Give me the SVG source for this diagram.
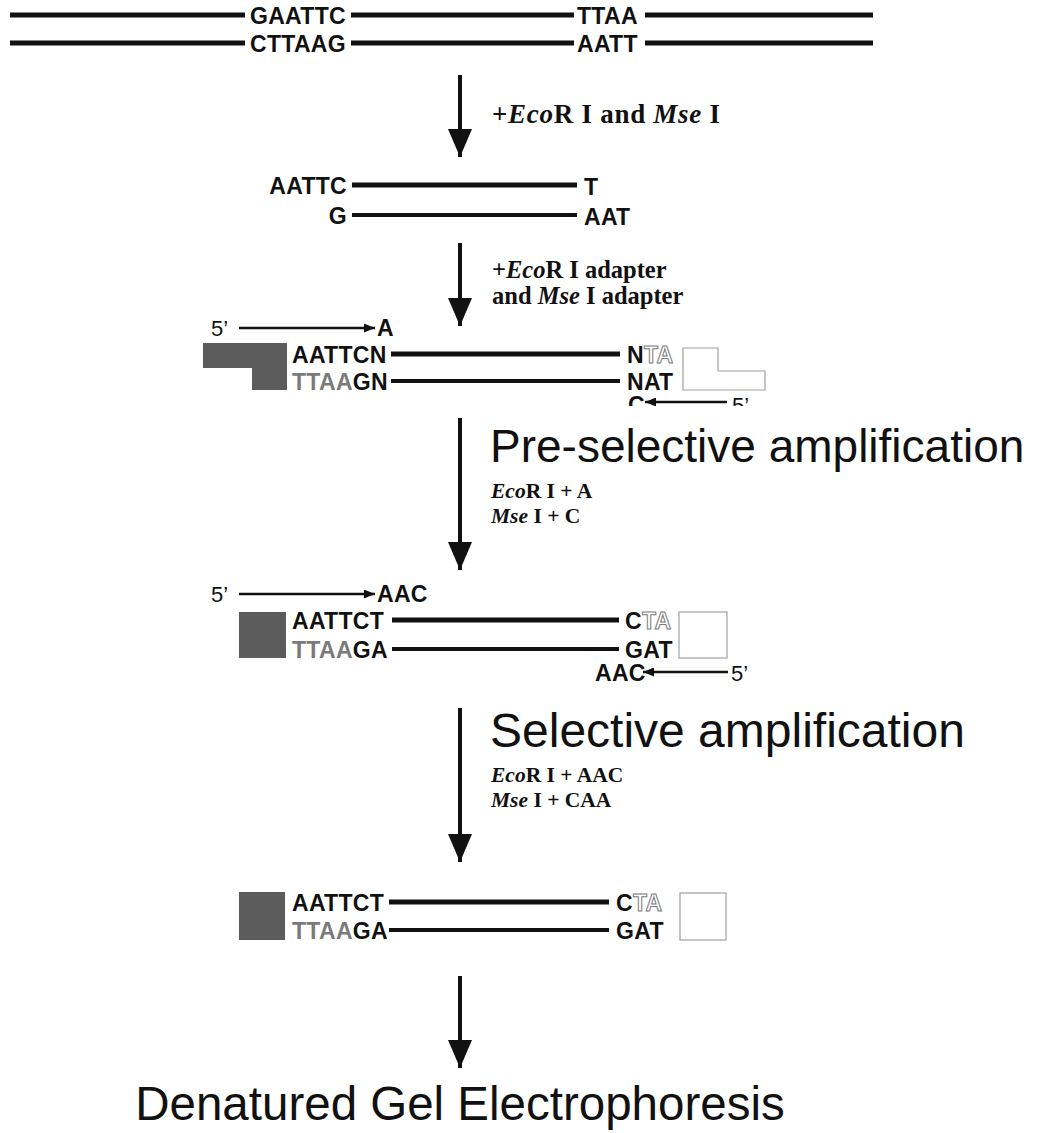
<svg xmlns="http://www.w3.org/2000/svg" width="1052" height="1133" viewBox="0 0 1052 1133">
<style>
.seq{font-family:"Liberation Sans",Arial,sans-serif;font-weight:bold;font-size:23px;fill:#111;letter-spacing:0.3px}
.prime{font-family:"Liberation Sans",Arial,sans-serif;font-size:22px;fill:#111}
.gray{fill:#7a7a7a}
.outl{fill:#fff;stroke:#7a7a7a;stroke-width:1}
.lab{font-family:"Liberation Serif","Times New Roman",serif;font-weight:bold;font-size:24.5px;fill:#111}
.sub{font-family:"Liberation Serif","Times New Roman",serif;font-weight:bold;font-size:21.5px;fill:#111}
.big{font-family:"Liberation Sans",Arial,sans-serif;font-size:47.5px;fill:#111}
.it{font-style:italic}
.dna{stroke:#111;stroke-width:5;fill:none}
.dna2{stroke:#111;stroke-width:4;fill:none}
.step{stroke:#111;stroke-width:4;fill:none;marker-end:url(#bigHead)}
.primer{stroke:#111;stroke-width:2.5;fill:none;marker-end:url(#smallHead)}
.adE{fill:#5c5c5c}
.adM{fill:#fff;stroke:#a0a0a0;stroke-width:1.2}
</style>
<defs>
<marker id="bigHead" markerUnits="userSpaceOnUse" viewBox="0 0 28 24" refX="28" refY="12" markerWidth="28" markerHeight="24" orient="auto">
<path d="M0,0 L28,12 L0,24 z" fill="#111"/>
</marker>
<marker id="smallHead" markerUnits="userSpaceOnUse" viewBox="0 0 11 9" refX="11" refY="4.5" markerWidth="11" markerHeight="9" orient="auto">
<path d="M0,0 L11,4.5 L0,9 z" fill="#111"/>
</marker>
<clipPath id="cut"><rect x="0" y="0" width="1052" height="406"/></clipPath>
</defs>
<rect width="1052" height="1133" fill="#fff"/>

<g id="genomic-dna">
<line class="dna" x1="10" y1="15" x2="245" y2="15"/>
<line class="dna" x1="351" y1="15" x2="574" y2="15"/>
<line class="dna" x1="645" y1="15" x2="873" y2="15"/>
<text class="seq" x="250" y="23.5">GAATTC</text>
<text class="seq" x="577" y="23.5">TTAA</text>
<line class="dna" x1="10" y1="43" x2="245" y2="43"/>
<line class="dna" x1="351" y1="43" x2="574" y2="43"/>
<line class="dna" x1="645" y1="43" x2="873" y2="43"/>
<text class="seq" x="250" y="51.5">CTTAAG</text>
<text class="seq" x="577" y="51.5">AATT</text>
</g>

<g id="digested-fragment">
<text class="seq" x="347" y="194" text-anchor="end">AATTC</text>
<line class="dna" x1="352" y1="185" x2="577" y2="185"/>
<text class="seq" x="584" y="195">T</text>
<text class="seq" x="347" y="224" text-anchor="end">G</text>
<line class="dna2" x1="352" y1="215" x2="577" y2="215"/>
<text class="seq" x="584" y="225">AAT</text>
</g>

<g id="adapter-ligation">
<text class="prime" x="211" y="336">5’</text>
<line class="primer" x1="239" y1="328" x2="375" y2="328"/>
<text class="seq" x="377" y="336">A</text>
<polygon class="adE" points="203,343 287,343 287,390 252,390 252,368 203,368"/>
<text class="seq" x="292" y="362.5">AATTCN</text>
<line class="dna" x1="391" y1="354" x2="620" y2="354"/>
<text class="seq" x="292" y="389.5"><tspan class="gray">TTAA</tspan>GN</text>
<line class="dna2" x1="391" y1="381" x2="620" y2="381"/>
<text class="seq" x="627" y="362.5">N<tspan class="outl">TA</tspan></text>
<text class="seq" x="627" y="389.5">NAT</text>
<polygon class="adM" points="683,348 718,348 718,371 765,371 765,390 683,390"/>
<g clip-path="url(#cut)">
<text class="seq" x="628" y="413">C</text>
<line class="primer" x1="727" y1="402" x2="645" y2="402"/>
<text class="prime" x="732" y="413">5’</text>
</g>
</g>

<g id="preselective-product">
<text class="prime" x="211" y="602">5’</text>
<line class="primer" x1="239" y1="594" x2="375" y2="594"/>
<text class="seq" x="377" y="602">AAC</text>
<rect class="adE" x="239" y="612" width="47" height="46"/>
<text class="seq" x="292" y="628.5">AATTCT</text>
<line class="dna" x1="392" y1="620" x2="619" y2="620"/>
<text class="seq" x="292" y="657.5"><tspan class="gray">TTAA</tspan>GA</text>
<line class="dna2" x1="392" y1="649" x2="619" y2="649"/>
<text class="seq" x="625" y="628.5">C<tspan class="outl">TA</tspan></text>
<text class="seq" x="625" y="657.5">GAT</text>
<rect class="adM" x="679" y="612" width="48" height="46"/>
<text class="seq" x="595" y="680.5">AAC</text>
<line class="primer" x1="728" y1="672" x2="643" y2="672"/>
<text class="prime" x="731" y="680.5">5’</text>
</g>

<g id="selective-product">
<rect class="adE" x="239" y="892" width="46" height="48"/>
<text class="seq" x="292" y="910.5">AATTCT</text>
<line class="dna" x1="389" y1="902" x2="609" y2="902"/>
<text class="seq" x="292" y="938.5"><tspan class="gray">TTAA</tspan>GA</text>
<line class="dna2" x1="389" y1="930" x2="609" y2="930"/>
<text class="seq" x="616" y="910.5">C<tspan class="outl">TA</tspan></text>
<text class="seq" x="616" y="938.5">GAT</text>
<rect class="adM" x="680" y="893" width="46" height="47"/>
</g>

<g id="connectors">
<line class="step" x1="460" y1="75" x2="460" y2="157"/>
<line class="step" x1="460" y1="243" x2="460" y2="326"/>
<line class="step" x1="460" y1="418" x2="460" y2="570"/>
<line class="step" x1="460" y1="708" x2="460" y2="862"/>
<line class="step" x1="460" y1="976" x2="460" y2="1068"/>
</g>

<g id="labels">
<text class="lab" x="492" y="123" style="font-size:27px" textLength="228" lengthAdjust="spacing">+<tspan class="it">Eco</tspan>R I and <tspan class="it">Mse</tspan> I</text>
<text class="lab" x="492" y="278">+<tspan class="it">Eco</tspan>R I adapter</text>
<text class="lab" x="492" y="304">and <tspan class="it">Mse</tspan> I adapter</text>
<text class="big" x="490" y="462" style="font-size:46px">Pre-selective amplification</text>
<text class="sub" x="491" y="498"><tspan class="it">Eco</tspan>R I + A</text>
<text class="sub" x="491" y="523"><tspan class="it">Mse</tspan> I + C</text>
<text class="big" x="490" y="747" style="font-size:48px">Selective amplification</text>
<text class="sub" x="491" y="782"><tspan class="it">Eco</tspan>R I + AAC</text>
<text class="sub" x="491" y="807"><tspan class="it">Mse</tspan> I + CAA</text>
<text class="big" x="460" y="1120" text-anchor="middle">Denatured Gel Electrophoresis</text>
</g>
</svg>
